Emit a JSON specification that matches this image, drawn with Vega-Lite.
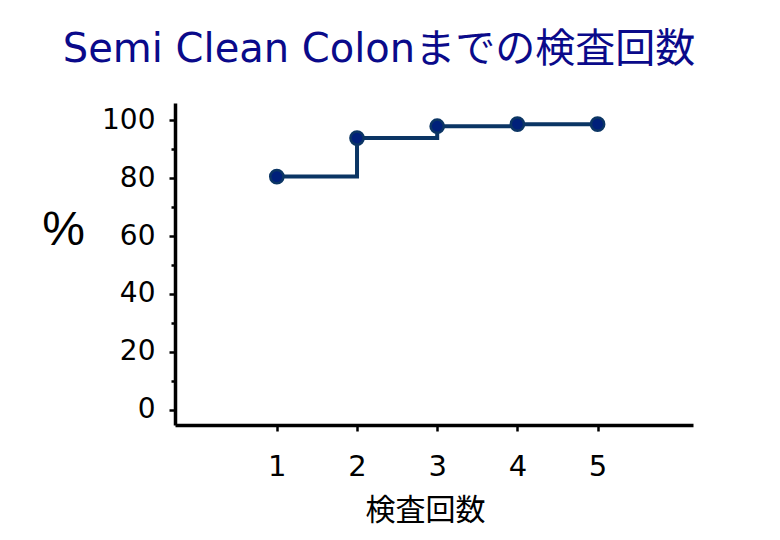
{
  "$schema": "https://vega.github.io/schema/vega-lite/v6.json",
  "autosize": "none",
  "width": 518,
  "height": 322,
  "padding": {"left": 175, "top": 103, "right": 87, "bottom": 115},
  "background": "white",
  "config": {
    "view": {"stroke": null},
    "font": "DejaVu Sans, Noto Sans CJK JP",
    "axis": {"grid": false, "domainColor": "black", "tickColor": "black", "labelColor": "black", "titleColor": "black", "domainWidth": 3.5, "tickWidth": 2.5, "titleFontWeight": "normal", "labelFont": "DejaVu Sans"}
  },
  "title": {
    "text": "Semi Clean Colonまでの検査回数",
    "font": "DejaVu Sans, Noto Sans CJK JP",
    "fontSize": 40,
    "fontWeight": "normal",
    "color": "#0a0a8a",
    "anchor": "middle",
    "frame": "group",
    "baseline": "alphabetic",
    "dx": -55,
    "offset": 1
  },
  "data": {"values": [
    {"count": 1, "pct": 80.5},
    {"count": 2, "pct": 93.8},
    {"count": 3, "pct": 97.9},
    {"count": 4, "pct": 98.6},
    {"count": 5, "pct": 98.6}
  ]},
  "encoding": {
    "x": {"field": "count", "type": "quantitative", "scale": {"domain": [-0.27, 6.19], "nice": false, "zero": false},
      "axis": {"values": [1, 2, 3, 4, 5], "title": "検査回数", "titleFont": "Noto Sans CJK JP", "labelFontSize": 29, "labelPadding": 21, "tickSize": 6, "titleFontSize": 30, "titlePadding": 14, "titleX": 250, "labelFlush": false}},
    "y": {"field": "pct", "type": "quantitative", "scale": {"domain": [-5.2, 105.9], "nice": false, "zero": false}}
  },
  "layer": [
    {
      "mark": {"type": "line", "interpolate": "step-after", "color": "#0b3564", "strokeWidth": 4},
      "encoding": {
        "y": {"field": "pct", "type": "quantitative",
          "axis": {"values": [0, 20, 40, 60, 80, 100], "title": "%", "titleFont": "Liberation Sans", "titleAngle": 0, "titleFontSize": 48, "titleX": -112, "titleY": 127, "titleAlign": "center", "titleBaseline": "middle", "labelFontSize": 28, "labelPadding": 14, "tickSize": 6, "labelFlush": false}}
      }
    },
    {
      "mark": {"type": "point", "filled": true, "shape": "circle", "size": 175, "color": "#00207a", "stroke": "#0b3564", "strokeWidth": 2.5, "opacity": 1},
      "encoding": {
        "y": {"field": "pct", "type": "quantitative",
          "axis": {"orient": "left", "values": [10, 30, 50, 70, 90], "labels": false, "title": null, "tickSize": 4, "domain": false}}
      }
    }
  ],
  "resolve": {"axis": {"y": "independent"}}
}
